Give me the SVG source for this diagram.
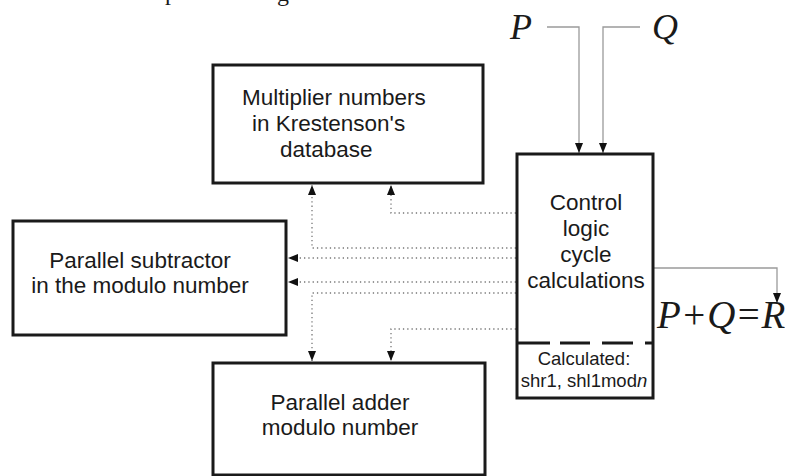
<svg xmlns="http://www.w3.org/2000/svg" width="785" height="476" viewBox="0 0 785 476">
<style>
.box{fill:#fff;stroke:#1a1a1a;stroke-width:3}
.t{font-family:"Liberation Sans",Arial,sans-serif;font-size:22.5px;fill:#1a1a1a}
.ts{font-family:"Liberation Sans",Arial,sans-serif;font-size:18.5px;fill:#1a1a1a}
.m{font-family:"Liberation Serif","Times New Roman",serif;font-style:italic;fill:#1a1a1a}
.solid{fill:none;stroke:#9a9a9a;stroke-width:1.3}
.dot{fill:none;stroke:#777;stroke-width:1.3;stroke-dasharray:1.3 3}
</style>
<defs>
<marker id="ah" viewBox="0 0 10 8" refX="10" refY="4" markerWidth="10" markerHeight="8" orient="auto" markerUnits="userSpaceOnUse">
<path d="M0,0 L10,4 L0,8 Z" fill="#111"/>
</marker>
</defs>
<rect width="785" height="476" fill="#fff"/>
<text class="m" style="font-style:normal" font-size="24" x="165" y="0">p</text>
<text class="m" style="font-style:normal" font-size="24" x="277" y="1">g</text>
<g id="connectors">
<path class="solid" d="M547,27 H579 V153" marker-end="url(#ah)"/>
<path class="solid" d="M640,27 H603 V153" marker-end="url(#ah)"/>
<path class="solid" d="M654,268 H777 V303" marker-end="url(#ah)"/>
<path class="dot" d="M516,248 H312 V185" marker-end="url(#ah)"/>
<path class="dot" d="M516,213 H391 V185" marker-end="url(#ah)"/>
<path class="dot" d="M516,258 H288" marker-end="url(#ah)"/>
<path class="dot" d="M516,282 H288" marker-end="url(#ah)"/>
<path class="dot" d="M516,293 H312 V361" marker-end="url(#ah)"/>
<path class="dot" d="M516,329 H391 V361" marker-end="url(#ah)"/>
</g>
<g id="multiplier">
<rect class="box" x="213" y="65" width="270" height="118"/>
<text class="t" x="242" y="105">Multiplier numbers</text>
<text class="t" x="252" y="131">in Krestenson's</text>
<text class="t" x="280" y="157">database</text>
</g>
<g id="subtractor">
<rect class="box" x="13" y="221" width="273" height="114"/>
<text class="t" x="140" y="268" text-anchor="middle">Parallel subtractor</text>
<text class="t" x="140" y="293" text-anchor="middle">in the modulo number</text>
</g>
<g id="adder">
<rect class="box" x="213" y="363" width="272" height="112"/>
<text class="t" x="340" y="410" text-anchor="middle">Parallel adder</text>
<text class="t" x="340" y="435" text-anchor="middle">modulo number</text>
</g>
<g id="control">
<rect class="box" x="517" y="154" width="136" height="244"/>
<line x1="517" y1="343" x2="653" y2="343" stroke="#1a1a1a" stroke-width="3" stroke-dasharray="33 10 30 12 31 12"/>
<text class="t" x="586" y="210" text-anchor="middle">Control</text>
<text class="t" x="586" y="236" text-anchor="middle">logic</text>
<text class="t" x="586" y="262" text-anchor="middle">cycle</text>
<text class="t" x="586" y="288" text-anchor="middle">calculations</text>
<text class="ts" x="584" y="365" text-anchor="middle">Calculated:</text>
<text class="ts" x="584" y="387" text-anchor="middle">shr1, shl1mod<tspan font-style="italic">n</tspan></text>
</g>
<g id="labels">
<text class="m" font-size="36" x="510" y="39">P</text>
<text class="m" font-size="36" x="652" y="39">Q</text>
<text class="m" font-size="39" x="657" y="328">P+Q=R</text>
</g>
</svg>
